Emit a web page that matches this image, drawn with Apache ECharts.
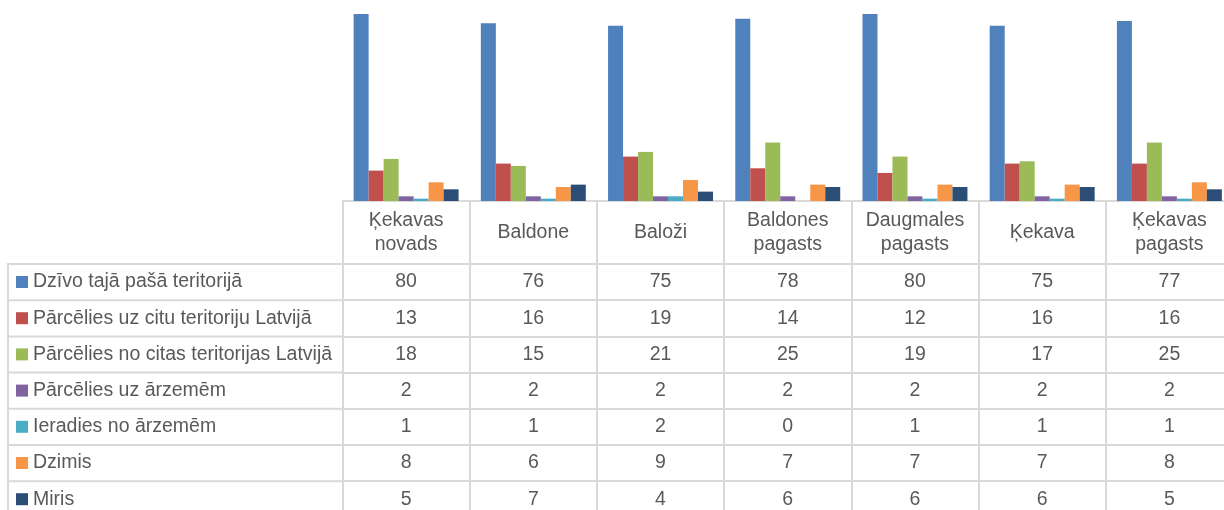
<!DOCTYPE html>
<html>
<head>
<meta charset="utf-8">
<script src="https://cdn.jsdelivr.net/npm/echarts@6/dist/echarts.min.js"></script>
<style>
  html, body { margin: 0; padding: 0; background: #fff; }
  #chart { width: 1224px; height: 510px; }
</style>
</head>
<body>
<div id="chart"></div>
<script>
const categories = ['Ķekavas novads', 'Baldone', 'Baloži', 'Baldones pagasts', 'Daugmales pagasts', 'Ķekava', 'Ķekavas pagasts'];
const seriesNames = [
  'Dzīvo tajā pašā teritorijā',
  'Pārcēlies uz citu teritoriju Latvijā',
  'Pārcēlies no citas teritorijas Latvijā',
  'Pārcēlies uz ārzemēm',
  'Ieradies no ārzemēm',
  'Dzimis',
  'Miris'
];
const dzivo = [80, 76, 75, 78, 80, 75, 77];
const uzCitu = [13, 16, 19, 14, 12, 16, 16];
const noCitas = [18, 15, 21, 25, 19, 17, 25];
const uzArzemem = [2, 2, 2, 2, 2, 2, 2];
const noArzemem = [1, 1, 2, 0, 1, 1, 1];
const dzimis = [8, 6, 9, 7, 7, 7, 8];
const miris = [5, 7, 4, 6, 6, 6, 5];

const seriesData = [dzivo, uzCitu, noCitas, uzArzemem, noArzemem, dzimis, miris];
const colors = ['#4F81BD', '#C0504D', '#9BBB59', '#8064A2', '#4BACC6', '#F79646', '#2C4D75'];

const FONT = "'Liberation Sans', Arial, sans-serif";
const TEXT = '#595959';
const LINE = '#D9D9D9';
const BASE_Y = 201;     // bottom of plot / top of table
const HEADER_H = 63;
const ROW_H = 36.2;
const TABLE_LEFT = 8;
const PLOT_LEFT = 342.5;

const chart = echarts.init(document.getElementById('chart'));

// main category axis = table header row
const xAxes = [{
  type: 'category',
  gridIndex: 0,
  position: 'bottom',
  data: categories,
  axisLine: { show: true, lineStyle: { color: LINE, width: 2 } },
  axisTick: { show: true, inside: false, length: HEADER_H, lineStyle: { color: LINE, width: 2 } },
  axisLabel: {
    interval: 0,
    margin: HEADER_H / 2,
    verticalAlign: 'middle',
    fontFamily: FONT,
    fontSize: 19.5,
    lineHeight: 24,
    color: TEXT,
    formatter: v => v.replace(' ', '\n')
  }
}];

// one extra axis per series = one table row
seriesData.forEach((arr, i) => {
  xAxes.push({
    type: 'category',
    gridIndex: 0,
    position: 'bottom',
    offset: HEADER_H + ROW_H * i,
    data: categories,
    axisLine: { show: true, lineStyle: { color: LINE, width: 2 } },
    axisTick: { show: true, inside: false, length: ROW_H, lineStyle: { color: LINE, width: 2 } },
    axisLabel: {
      interval: 0,
      margin: ROW_H / 2,
      verticalAlign: 'middle',
      fontFamily: FONT,
      fontSize: 19.5,
      color: TEXT,
      formatter: (v, idx) => String(arr[idx])
    }
  });
});

// left column borders of the data table
const graphics = [{
  type: 'line',
  shape: { x1: TABLE_LEFT, y1: BASE_Y + HEADER_H, x2: TABLE_LEFT, y2: 520 },
  style: { stroke: LINE, lineWidth: 2 }
}];
for (let i = 0; i < seriesData.length; i++) {
  const y = BASE_Y + HEADER_H + ROW_H * i;
  graphics.push({
    type: 'line',
    shape: { x1: TABLE_LEFT - 1, y1: y, x2: PLOT_LEFT, y2: y },
    style: { stroke: LINE, lineWidth: 2 }
  });
}

const option = {
  animation: false,
  color: colors,
  grid: {
    left: PLOT_LEFT,
    right: -9,
    top: 14,
    bottom: 510 - BASE_Y,
    containLabel: false,
    outerBoundsMode: 'none'
  },
  legend: {
    orient: 'vertical',
    left: 16,
    top: 272,
    padding: 0,
    itemGap: 16.2,
    itemWidth: 12,
    itemHeight: 12,
    icon: 'rect',
    selectedMode: false,
    data: seriesNames,
    textStyle: { fontFamily: FONT, fontSize: 19.5, color: TEXT, lineHeight: 20 }
  },
  xAxis: xAxes,
  yAxis: {
    type: 'value',
    min: 0,
    max: 80,
    show: false,
    splitLine: { show: false }
  },
  graphic: graphics,
  series: seriesData.map((arr, i) => ({
    name: seriesNames[i],
    type: 'bar',
    xAxisIndex: 0,
    yAxisIndex: 0,
    barGap: '0%',
    barCategoryGap: '17.5%',
    data: arr,
    itemStyle: { color: colors[i] }
  }))
};

chart.setOption(option);
</script>
</body>
</html>
